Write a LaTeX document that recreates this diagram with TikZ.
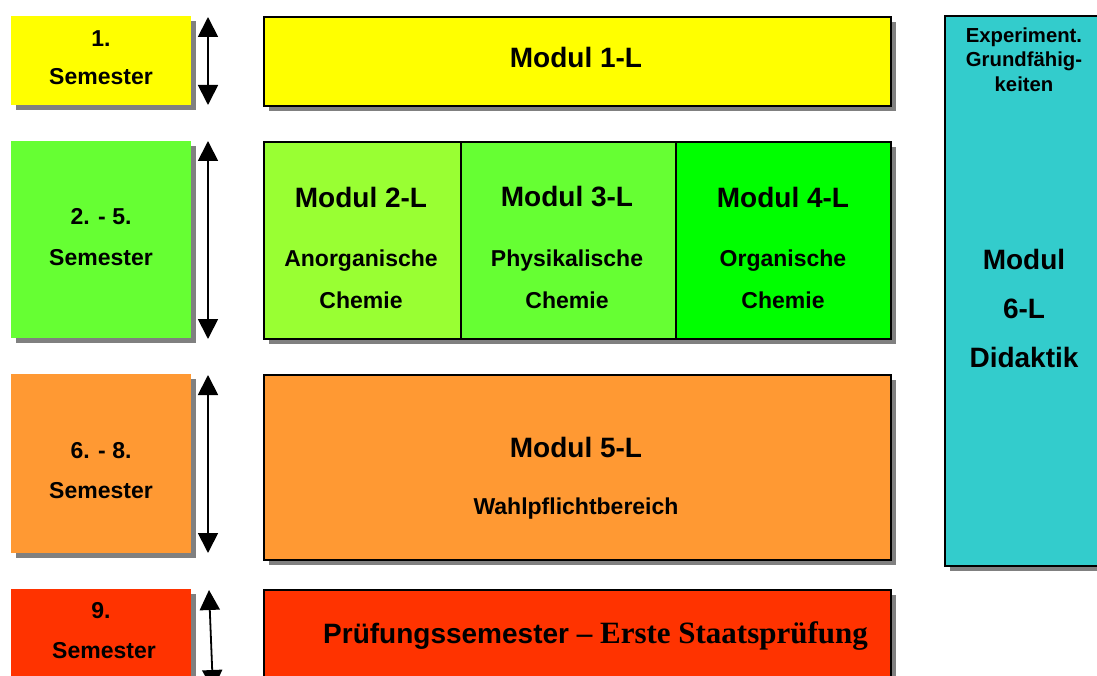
\documentclass[tikz,border=0pt]{standalone}
\usepackage{fontspec}
\setmainfont{Liberation Sans}
\newfontfamily\serifbf{Liberation Serif}
\usetikzlibrary{arrows.meta,shadows}
\definecolor{cyell}{HTML}{FFFF00}
\definecolor{cgrn}{HTML}{66FF33}
\definecolor{clgrn}{HTML}{99FF33}
\definecolor{cdgrn}{HTML}{00FF00}
\definecolor{corng}{HTML}{FF9933}
\definecolor{cred}{HTML}{FF3300}
\definecolor{ccyan}{HTML}{33CCCC}
\definecolor{cshad}{HTML}{808080}
\tikzset{
  shad/.style={drop shadow={shadow xshift=5pt,shadow yshift=-5pt,fill=cshad,opacity=1}},
  sembox/.style={shad,rectangle,anchor=north west,inner sep=0pt,draw=none},
  modbox/.style={shad,rectangle,anchor=north west,inner sep=0pt,draw=black,line width=1.8pt},
  subbox/.style={rectangle,anchor=north west,inner sep=0pt,draw=black,line width=1.8pt},
  txt/.style={font=\bfseries\fontsize{23}{26}\selectfont,inner sep=0pt,anchor=center},
  sub/.style={font=\bfseries\fontsize{23}{26}\selectfont,inner sep=0pt,anchor=center},
  big/.style={font=\bfseries\fontsize{28}{32}\selectfont,inner sep=0pt,anchor=center},
  sarrow/.style={{Triangle[width=20pt,length=20pt]}-{Triangle[width=20pt,length=20pt]},line width=1.8pt}
}
\begin{document}
\begin{tikzpicture}[x=1pt,y=-1pt]
\useasboundingbox (0,0) rectangle (1097,676);
% semester boxes
\node[sembox,fill=cyell,minimum width=180pt,minimum height=89pt] (s1) at (11,16) {};
\node[sembox,fill=cgrn,minimum width=180pt,minimum height=197pt] (s2) at (11,141) {};
\node[sembox,fill=corng,minimum width=180pt,minimum height=179pt] (s3) at (11,374) {};
\node[sembox,fill=cred,minimum width=180pt,minimum height=120pt] (s4) at (11,589) {};
\node[txt] (s1a) at (101,39) {1.};
\node[txt] (s1b) at (101,77) {Semester};
\node[txt] (s2a) at (101,217) {2. - 5.};
\node[txt] (s2b) at (101,258) {Semester};
\node[txt] (s3a) at (101,451) {6. - 8.};
\node[txt] (s3b) at (101,491) {Semester};
\node[txt] (s4a) at (101,611) {9.};
\node[txt] (s4b) at (104,651) {Semester};
% arrows
\coordinate (a1t) at (208,17); \coordinate (a1b) at (208,105);
\coordinate (a2t) at (208,141); \coordinate (a2b) at (208,339);
\coordinate (a3t) at (208,375); \coordinate (a3b) at (208,553);
\coordinate (a4t) at (209,590); \coordinate (a4b) at (213,690);
\draw[sarrow] (a1t) -- (a1b);
\draw[sarrow] (a2t) -- (a2b);
\draw[sarrow] (a3t) -- (a3b);
\draw[sarrow] (a4t) -- (a4b);
% module boxes
\node[modbox,fill=cyell,minimum width=627pt,minimum height=89pt] (m1) at (263,16) {};
\node[big] (m1t) at (576,57) {Modul 1-L};
\node[modbox,fill=clgrn,minimum width=627pt,minimum height=197pt] (row2) at (263,141) {};
\node[subbox,fill=clgrn,minimum width=197pt,minimum height=197pt] (m2) at (263,141) {};
\node[subbox,fill=cgrn,minimum width=215pt,minimum height=197pt] (m3) at (460,141) {};
\node[subbox,fill=cdgrn,minimum width=215pt,minimum height=197pt] (m4) at (675,141) {};
\node[big] (m2t) at (361,197) {Modul 2-L};
\node[sub] (m2a) at (361,261) {Anorganische};
\node[sub] (m2b) at (361,300) {Chemie};
\node[big] (m3t) at (567,197) {Modul 3-L};
\node[sub] (m3a) at (567,261) {Physikalische};
\node[sub] (m3b) at (567,300) {Chemie};
\node[big] (m4t) at (783,197) {Modul 4-L};
\node[sub] (m4a) at (783,261) {Organische};
\node[sub] (m4b) at (783,300) {Chemie};
\node[modbox,fill=corng,minimum width=627pt,minimum height=185pt] (m5) at (263,374) {};
\node[big] (m5t) at (576,447) {Modul 5-L};
\node[sub] (m5a) at (576,509) {Wahlpflichtbereich};
\node[modbox,fill=cred,minimum width=627pt,minimum height=120pt] (m7) at (263,589) {};
\node[inner sep=0pt,anchor=base west] (m7t) at (323,643) {\bfseries\fontsize{28}{30}\selectfont Prüfungssemester \serifbf\fontsize{31}{34}\selectfont– Erste Staatsprüfung};
% right box
\node[modbox,fill=ccyan,minimum width=170pt,minimum height=550pt] (m6) at (944,15) {};
\node[txt,font=\bfseries\fontsize{20.3}{23}\selectfont] (m6a) at (1024,37) {Experiment.};
\node[txt,font=\bfseries\fontsize{20.3}{23}\selectfont] (m6b) at (1024,61) {Grundfähig-};
\node[txt,font=\bfseries\fontsize{20.3}{23}\selectfont] (m6c) at (1024,84) {keiten};
\node[big] (m6d) at (1024,259) {Modul};
\node[big] (m6e) at (1024,309) {6-L};
\node[big] (m6f) at (1024,357) {Didaktik};
\end{tikzpicture}
\end{document}
